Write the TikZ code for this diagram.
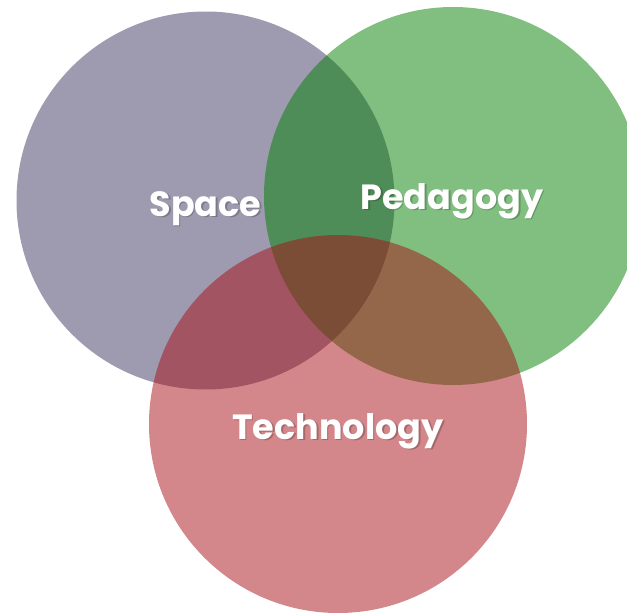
\documentclass[tikz,border=0pt]{standalone}
\usepackage{fontspec}
\setmainfont{Poppins}
\definecolor{spacecol}{RGB}{61,55,97}
\definecolor{pedcol}{RGB}{1,127,1}
\definecolor{techcol}{RGB}{169,15,21}
\begin{document}
\begin{tikzpicture}[x=1pt,y=-1pt,
  venn/.style={circle,minimum size=378pt,inner sep=0pt,fill opacity=0.5,draw=none},
  lbl/.style={anchor=base,text=white,font=\fontsize{35}{40}\selectfont\bfseries,inner sep=0pt},
  shadowlbl/.style={anchor=base,text=black,text opacity=0.22,font=\fontsize{35}{40}\selectfont\bfseries,inner sep=0pt}]
\useasboundingbox (0,0) rectangle (627,613);
\clip (0,0) rectangle (627,613);
\node[venn,fill=spacecol] (space) at (205.5,200.5) {};
\node[venn,fill=pedcol] (ped) at (453,196) {};
\node[venn,fill=techcol] (tech) at (338,424) {};
\node[shadowlbl] (spaceS) at (207,217.5) {Space};
\node[shadowlbl] (pedS) at (453.5,210.5) {Pedagogy};
\node[shadowlbl] (techS) at (339.5,440.5) {Technology};
\node[lbl] (spaceL) at (205.5,216) {Space};
\node[lbl] (pedL) at (452,209) {Pedagogy};
\node[lbl] (techL) at (338,439) {Technology};
\end{tikzpicture}
\end{document}
